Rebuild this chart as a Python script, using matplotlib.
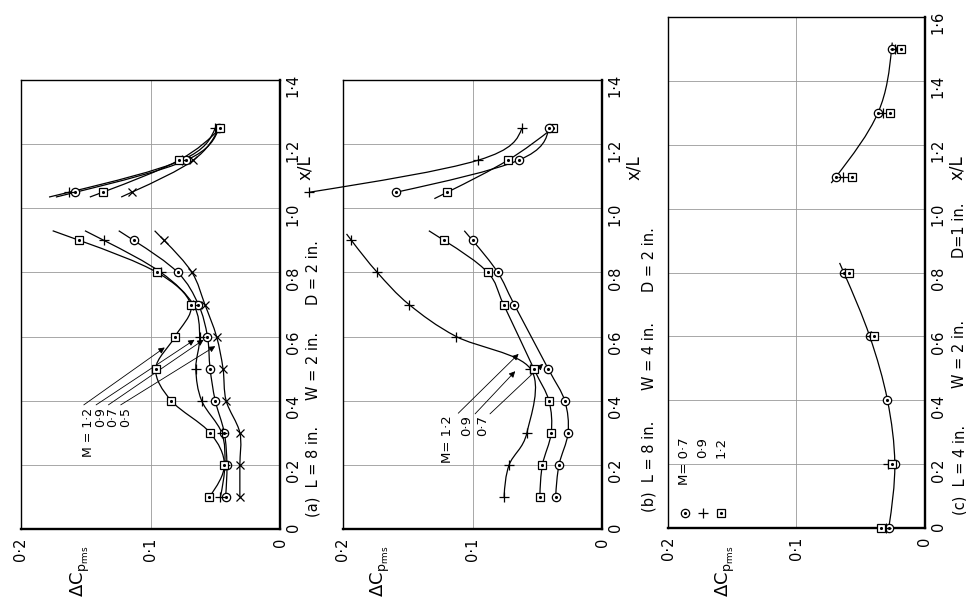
import numpy as np
import matplotlib
matplotlib.use("Agg")
import matplotlib.pyplot as plt
from matplotlib.path import Path
from matplotlib.patches import PathPatch
from matplotlib.ticker import FuncFormatter

# ---- data (x/L positions, delta Cp rms values) ----
# (a) L = 8 in, W = 2 in, D = 2 in
a_xl = [0.1, 0.2, 0.3, 0.4, 0.5, 0.6, 0.7, 0.8, 0.9, 1.05, 1.15, 1.25]
a_cross = [0.031, 0.031, 0.031, 0.0416, 0.044, 0.049, 0.058, 0.068, 0.0895, 0.1145, 0.067, 0.047]
a_dot = [0.042, 0.041, 0.043, 0.050, 0.054, 0.056, 0.063, 0.079, 0.113, 0.158, 0.0724, 0.047]
a_plus = [0.046, 0.0426, 0.045, 0.0605, 0.065, 0.062, 0.067, 0.092, 0.136, 0.163, 0.076, 0.050]
a_sq = [0.0545, 0.043, 0.054, 0.084, 0.096, 0.081, 0.069, 0.095, 0.155, 0.137, 0.078, 0.046]

# (b) L = 8 in, W = 4 in, D = 2 in
b_plus_xl = [0.1, 0.2, 0.3, 0.5, 0.6, 0.7, 0.8, 0.9, 1.05, 1.15, 1.25]
b_plus = [0.0756, 0.0717, 0.058, 0.0553, 0.1125, 0.149, 0.1735, 0.1935, 0.226, 0.0956, 0.0618]
b_xl = [0.1, 0.2, 0.3, 0.4, 0.5, 0.7, 0.8, 0.9, 1.05, 1.15, 1.25]
b_sq = [0.048, 0.046, 0.0392, 0.041, 0.0527, 0.076, 0.0883, 0.122, 0.1195, 0.0727, 0.038]
b_dot = [0.0358, 0.0332, 0.0262, 0.0288, 0.0416, 0.0678, 0.0805, 0.100, 0.159, 0.0644, 0.041]

# (c) L = 4 in, W = 2 in, D = 1 in
c_xl = [0.0, 0.2, 0.4, 0.6, 0.8, 1.1, 1.3, 1.5]
c_dot = [0.0282, 0.0235, 0.0292, 0.043, 0.0632, 0.0692, 0.0366, 0.026]
c_xl2 = [0.0, 0.2, 0.6, 0.8, 1.1, 1.3, 1.5]
c_plus = [0.030, 0.0287, 0.0417, 0.0619, 0.064, 0.0326, 0.0235]
c_sq = [0.0345, 0.0253, 0.0397, 0.059, 0.057, 0.0274, 0.0188]

W, H = 966, 601


def fx(px):
    return px / W


def fy(py):
    return 1 - py / H


def fair(ax, xl, dc, lo=0.0, hi=0.0, clip=True):
    # smooth hand-faired curve through the points (cubic Hermite / bezier)
    p = np.column_stack([dc, xl]).astype(float)
    n = len(p)
    t = np.zeros_like(p)
    t[1:-1] = (p[2:] - p[:-2]) / 2
    t[0] = 1.5 * (p[1] - p[0]) - 0.5 * t[1]
    t[-1] = 1.5 * (p[-1] - p[-2]) - 0.5 * t[-2]
    verts = [p[0] - lo * t[0], p[0]]
    codes = [Path.MOVETO, Path.LINETO]
    for i in range(n - 1):
        verts += [p[i] + t[i] / 3, p[i + 1] - t[i + 1] / 3, p[i + 1]]
        codes += [Path.CURVE4] * 3
    verts.append(p[-1] + hi * t[-1])
    codes.append(Path.LINETO)
    patch = PathPatch(Path(verts, codes), fill=False, lw=0.9, ec="k", zorder=3)
    patch.set_clip_on(clip)
    ax.add_patch(patch)


def marks(ax, xl, dc, kind):
    kw = dict(ls="none", clip_on=False, zorder=4)
    if kind == "dot":
        ax.plot(dc, xl, "o", ms=6, mfc="white", mec="k", mew=0.9, **kw)
        ax.plot(dc, xl, ".", ms=2.5, color="k", **kw)
    elif kind == "sq":
        ax.plot(dc, xl, "s", ms=5.5, mfc="white", mec="k", mew=0.9, **kw)
        ax.plot(dc, xl, ".", ms=2.5, color="k", **kw)
    elif kind == "plus":
        ax.plot(dc, xl, "+", ms=7, color="k", mew=0.9, **kw)
    else:
        ax.plot(dc, xl, "x", ms=5.5, color="k", mew=0.9, **kw)


def fmt(v, _):
    if abs(v) < 1e-9:
        return "0"
    return f"{v:.1f}".replace(".", "\u00b7")


def setup(ax, top):
    ax.set_xlim(0.2, 0)
    ax.set_ylim(0, top)
    ax.set_xticks([0, 0.1, 0.2])
    ax.set_yticks(np.arange(0, top + 0.01, 0.2))
    ax.xaxis.set_major_formatter(FuncFormatter(fmt))
    ax.yaxis.set_major_formatter(FuncFormatter(fmt))
    ax.grid(True, color="0.6", lw=0.6)
    ax.set_axisbelow(True)
    ax.yaxis.tick_right()
    ax.tick_params(length=0, labelsize=10.5, labelrotation=90)
    ax.tick_params(axis="x", pad=6)
    ax.tick_params(axis="y", pad=4)
    for s in ax.spines.values():
        s.set_linewidth(1.0)
    ax.spines["right"].set_linewidth(1.7)
    ax.spines["bottom"].set_linewidth(1.7)


def rtext(x, y, s, size=10.5, ha="left"):
    fig.text(fx(x), fy(y), s, rotation=90, rotation_mode="anchor",
             ha=ha, va="center", fontsize=size)


def leader(ax, start, end):
    ax.annotate("", xy=end, xytext=start, annotation_clip=False,
                arrowprops=dict(arrowstyle="-|>", lw=0.6, color="k",
                                mutation_scale=9, shrinkA=0, shrinkB=0))


plt.rcParams["mathtext.default"] = "regular"
fig = plt.figure(figsize=(9.66, 6.01), dpi=100)

axa = fig.add_axes([fx(21), fy(529), 259 / W, 449 / H])
axb = fig.add_axes([fx(343), fy(529), 259 / W, 449 / H])
axc = fig.add_axes([fx(668), fy(528), 257 / W, 511 / H])
setup(axa, 1.4)
setup(axb, 1.4)
setup(axc, 1.6)

# ---- panel (a) ----
for vals, kind in [(a_cross, "cross"), (a_dot, "dot"), (a_plus, "plus"), (a_sq, "sq")]:
    fair(axa, a_xl[:9], vals[:9], hi=0.3)
    fair(axa, a_xl[9:], vals[9:], lo=0.15)
    marks(axa, a_xl, vals, kind)

a_labels = ["M = 1\u00b72", "0\u00b79", "0\u00b77", "0\u00b75"]
a_lab_x = [0.148, 0.1385, 0.129, 0.1195]
a_tips = [(0.089, 0.566), (0.066, 0.59), (0.059, 0.59), (0.050, 0.57)]
for s, x, tip in zip(a_labels, a_lab_x, a_tips):
    axa.text(x, 0.379, s, rotation=90, rotation_mode="anchor", ha="right",
             va="center", fontsize=9)
    leader(axa, (x + 0.0035, 0.387), tip)

# ---- panel (b) ----
fair(axb, b_plus_xl[:8], b_plus[:8], hi=0.2)
fair(axb, b_plus_xl[8:], b_plus[8:], clip=False)
marks(axb, b_plus_xl, b_plus, "plus")
for vals, kind in [(b_sq, "sq"), (b_dot, "dot")]:
    fair(axb, b_xl[:8], vals[:8], hi=0.3)
    fair(axb, b_xl[8:], vals[8:], lo=0.2 if kind == "sq" else 0.0)
    marks(axb, b_xl, vals, kind)

b_labels = ["M= 1\u00b72", "0\u00b79", "0\u00b77"]
b_lab_x = [0.119, 0.1047, 0.0922]
b_starts = [(0.111, 0.361), (0.098, 0.359), (0.0865, 0.359)]
b_tips = [(0.0644, 0.546), (0.067, 0.492), (0.0455, 0.515)]
for s, x, st, tip in zip(b_labels, b_lab_x, b_starts, b_tips):
    axb.text(x, 0.355, s, rotation=90, rotation_mode="anchor", ha="right",
             va="center", fontsize=9.5)
    leader(axb, st, tip)

# ---- panel (c) ----
fair(axc, c_xl[:5], c_dot[:5], hi=0.15, clip=False)
fair(axc, c_xl[5:], c_dot[5:], lo=0.1, hi=0.1)
marks(axc, c_xl, c_dot, "dot")
marks(axc, c_xl2, c_plus, "plus")
marks(axc, c_xl2, c_sq, "sq")

leg_x = [0.187, 0.173, 0.159]
leg_txt = ["M= 0\u00b77", "0\u00b79", "1\u00b72"]
for x, kind, s in zip(leg_x, ["dot", "plus", "sq"], leg_txt):
    marks(axc, [0.047], [x], kind)
    axc.text(x, 0.285, s, rotation=90, rotation_mode="anchor", ha="right",
             va="center", fontsize=9.5)

# ---- labels outside the boxes ----
ylab = r"$\Delta C_{p_{rms}}$"
for x in [80, 380, 725]:
    rtext(x, 597, ylab, size=13)
for x in [305, 634, 957]:
    rtext(x, 168, "x/L", size=12, ha="center")

rtext(313, 517, "(a)  L = 8 in.")
rtext(313, 400, "W = 2 in.")
rtext(313, 305, "D = 2 in.")
rtext(649, 512, "(b)  L = 8 in.")
rtext(649, 390, "W = 4 in.")
rtext(649, 292, "D = 2 in.")
rtext(960, 515, "(c)  L = 4 in.")
rtext(960, 388, "W = 2 in.")
rtext(960, 258, "D=1 in.")

fig.savefig("out.png", dpi=100)
